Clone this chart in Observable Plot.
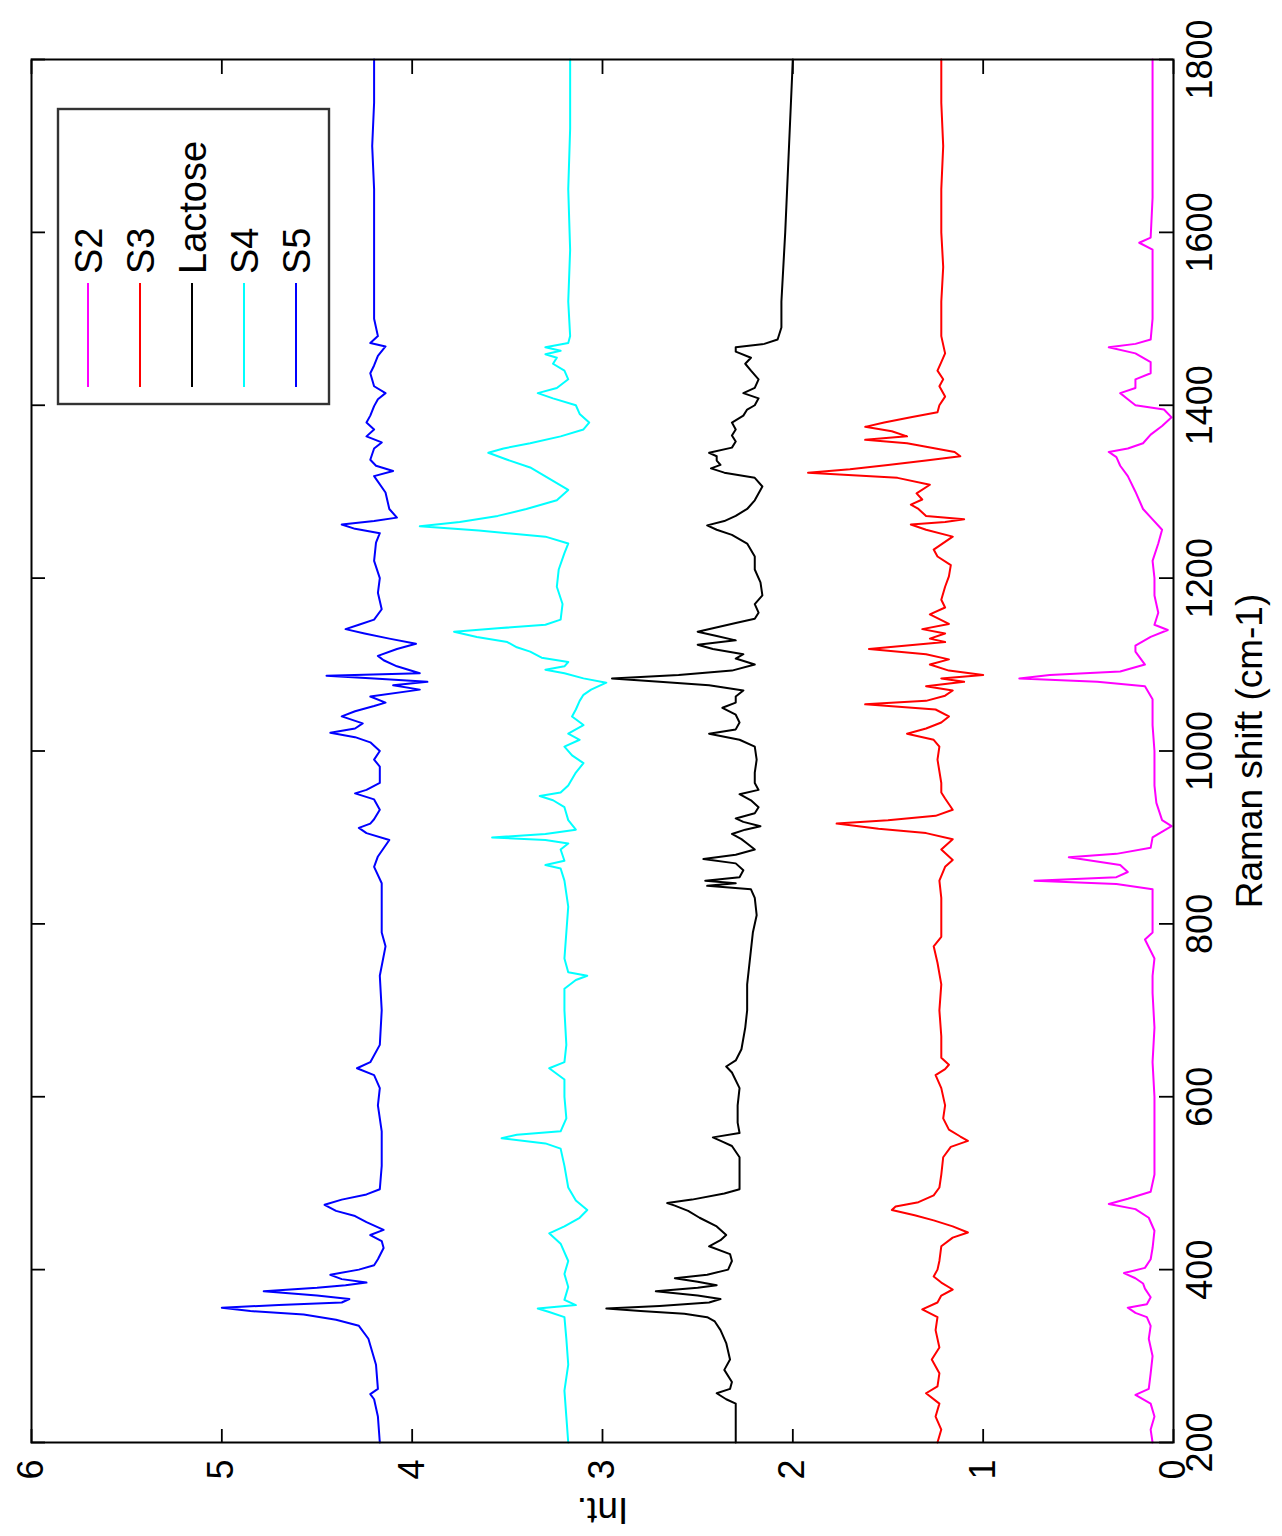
<!DOCTYPE html>
<html>
<head>
<meta charset="utf-8">
<script src="https://cdn.jsdelivr.net/npm/d3@7"></script>
<script src="https://cdn.jsdelivr.net/npm/@observablehq/plot@0.6"></script>
<style>
html, body { margin: 0; padding: 0; overflow: hidden; background: #fff; width: 1282px; height: 1536px; }
#rot { position: absolute; left: 0; top: 0; width: 1536px; height: 1282px; transform-origin: 0 0;
       transform: translate(0px, 1536px) rotate(-90deg); background: #fff; }
</style>
</head>
<body>
<div id="rot"></div>
<script>
// ---- data (Raman shift in cm-1, intensity) ----
const xTicks = [200, 400, 600, 800, 1000, 1200, 1400, 1600, 1800];
const yTicks = [0, 1, 2, 3, 4, 5, 6];
const names = ["S2", "S3", "Lactose", "S4", "S5"];
const colors = ["#ff00ff", "#ff0000", "#000000", "#00ffff", "#0000ff"];

const S2 = [[200,0.11],[215,0.12],[230,0.1],[245,0.12],[255,0.2],[262,0.13],[280,0.12],[300,0.11],[320,0.13],[335,0.12],[345,0.14],[350,0.2],[356,0.24],[360,0.14],[368,0.12],[378,0.15],[384,0.16],[390,0.2],[396,0.26],[402,0.15],[412,0.12],[425,0.11],[445,0.1],[460,0.13],[470,0.2],[476,0.34],[482,0.24],[490,0.12],[510,0.1],[540,0.1],[570,0.1],[600,0.1],[640,0.11],[680,0.1],[720,0.11],[740,0.11],[760,0.1],[782,0.15],[790,0.11],[820,0.11],[840,0.11],[846,0.3],[850,0.73],[854,0.3],[860,0.24],[868,0.28],[877,0.55],[881,0.3],[888,0.12],[900,0.11],[908,0.05],[913,0.01],[920,0.06],[940,0.09],[960,0.1],[1000,0.1],[1030,0.11],[1060,0.11],[1075,0.15],[1080,0.4],[1084,0.81],[1088,0.65],[1092,0.28],[1100,0.15],[1115,0.2],[1122,0.2],[1132,0.12],[1140,0.03],[1146,0.1],[1160,0.08],[1180,0.1],[1200,0.1],[1220,0.11],[1240,0.08],[1256,0.06],[1268,0.11],[1280,0.16],[1300,0.2],[1318,0.24],[1330,0.28],[1340,0.3],[1346,0.34],[1350,0.24],[1356,0.16],[1366,0.12],[1376,0.06],[1386,0.01],[1395,0.05],[1400,0.2],[1407,0.24],[1414,0.28],[1420,0.2],[1430,0.2],[1437,0.12],[1450,0.12],[1460,0.2],[1467,0.34],[1471,0.2],[1476,0.12],[1500,0.11],[1540,0.11],[1580,0.11],[1588,0.18],[1594,0.12],[1640,0.11],[1700,0.11],[1750,0.11],[1800,0.11]];

const S3 = [[200,1.24],[215,1.22],[230,1.25],[245,1.23],[257,1.3],[265,1.24],[280,1.23],[296,1.27],[310,1.23],[330,1.25],[345,1.24],[354,1.32],[362,1.24],[370,1.22],[377,1.16],[385,1.22],[392,1.26],[400,1.24],[410,1.23],[427,1.22],[437,1.16],[443,1.08],[450,1.16],[457,1.26],[463,1.36],[469,1.48],[473,1.46],[478,1.34],[486,1.26],[495,1.23],[510,1.22],[530,1.21],[542,1.17],[549,1.08],[554,1.12],[562,1.18],[575,1.21],[590,1.2],[610,1.22],[625,1.25],[632,1.2],[637,1.18],[645,1.22],[670,1.22],[700,1.23],[730,1.22],[755,1.24],[774,1.26],[785,1.22],[805,1.22],[830,1.22],[850,1.23],[866,1.2],[874,1.16],[886,1.22],[898,1.16],[905,1.3],[910,1.55],[916,1.77],[920,1.5],[925,1.25],[932,1.16],[945,1.2],[952,1.22],[963,1.22],[990,1.24],[1005,1.23],[1013,1.26],[1020,1.4],[1026,1.3],[1033,1.22],[1040,1.18],[1048,1.25],[1054,1.62],[1058,1.3],[1064,1.2],[1070,1.16],[1075,1.3],[1080,1.1],[1084,1.22],[1088,1.0],[1093,1.18],[1100,1.28],[1106,1.18],[1112,1.3],[1118,1.6],[1122,1.4],[1126,1.2],[1130,1.28],[1136,1.2],[1141,1.32],[1147,1.18],[1158,1.28],[1166,1.2],[1175,1.22],[1190,1.2],[1202,1.18],[1215,1.17],[1225,1.24],[1233,1.26],[1248,1.16],[1256,1.3],[1262,1.38],[1265,1.2],[1268,1.1],[1272,1.3],[1280,1.34],[1285,1.38],[1291,1.32],[1298,1.35],[1308,1.28],[1316,1.45],[1322,1.92],[1326,1.7],[1331,1.5],[1336,1.3],[1341,1.12],[1346,1.15],[1352,1.3],[1356,1.4],[1360,1.62],[1364,1.4],[1370,1.48],[1375,1.62],[1380,1.52],[1386,1.38],[1392,1.24],[1400,1.23],[1410,1.2],[1422,1.23],[1430,1.21],[1440,1.24],[1450,1.22],[1460,1.2],[1480,1.22],[1520,1.22],[1560,1.21],[1600,1.22],[1650,1.22],[1700,1.21],[1750,1.22],[1800,1.22]];

const Lactose = [[200,2.3],[245,2.3],[250,2.35],[257,2.4],[262,2.33],[270,2.32],[284,2.36],[296,2.33],[315,2.35],[330,2.38],[340,2.41],[345,2.45],[349,2.57],[352,2.8],[355,2.98],[358,2.7],[362,2.44],[366,2.38],[370,2.5],[375,2.72],[379,2.5],[382,2.4],[386,2.5],[390,2.62],[394,2.45],[400,2.34],[410,2.32],[418,2.33],[427,2.44],[434,2.38],[440,2.35],[450,2.4],[460,2.49],[468,2.55],[474,2.62],[477,2.66],[481,2.53],[488,2.36],[493,2.28],[510,2.28],[530,2.28],[543,2.32],[548,2.37],[553,2.42],[558,2.28],[570,2.29],[590,2.29],[610,2.28],[628,2.32],[635,2.35],[642,2.3],[655,2.27],[680,2.25],[700,2.24],[730,2.24],[750,2.23],[770,2.22],[790,2.21],[810,2.19],[830,2.2],[840,2.22],[844,2.45],[847,2.3],[850,2.46],[854,2.28],[862,2.26],[870,2.3],[875,2.47],[880,2.3],[886,2.2],[893,2.24],[898,2.27],[904,2.32],[909,2.25],[913,2.17],[918,2.26],[922,2.3],[928,2.2],[935,2.18],[943,2.22],[950,2.28],[955,2.18],[963,2.2],[975,2.2],[990,2.19],[1005,2.2],[1013,2.28],[1020,2.44],[1025,2.3],[1033,2.28],[1042,2.3],[1050,2.37],[1056,2.3],[1063,2.3],[1070,2.26],[1076,2.44],[1080,2.7],[1084,2.95],[1088,2.6],[1093,2.32],[1100,2.2],[1107,2.3],[1112,2.26],[1118,2.42],[1123,2.5],[1128,2.3],[1133,2.4],[1138,2.5],[1142,2.42],[1148,2.3],[1153,2.2],[1160,2.18],[1170,2.2],[1180,2.16],[1195,2.17],[1210,2.2],[1225,2.2],[1240,2.24],[1250,2.32],[1256,2.4],[1261,2.45],[1266,2.36],[1272,2.3],[1280,2.24],[1290,2.2],[1306,2.16],[1316,2.2],[1322,2.36],[1327,2.43],[1331,2.38],[1336,2.4],[1341,2.4],[1345,2.44],[1351,2.32],[1358,2.3],[1365,2.32],[1372,2.3],[1380,2.32],[1388,2.26],[1395,2.24],[1400,2.2],[1408,2.18],[1414,2.26],[1420,2.2],[1430,2.18],[1440,2.22],[1448,2.25],[1455,2.22],[1462,2.3],[1467,2.3],[1471,2.15],[1476,2.08],[1490,2.06],[1520,2.06],[1560,2.05],[1600,2.04],[1650,2.03],[1700,2.02],[1750,2.01],[1800,2.0]];

const S4 = [[200,3.18],[230,3.19],[260,3.2],[290,3.18],[320,3.19],[345,3.2],[351,3.28],[355,3.34],[359,3.14],[365,3.2],[380,3.18],[395,3.2],[410,3.18],[430,3.22],[442,3.28],[450,3.2],[460,3.12],[469,3.08],[480,3.14],[495,3.18],[520,3.2],[540,3.22],[546,3.3],[552,3.53],[556,3.45],[560,3.22],[575,3.19],[600,3.2],[620,3.2],[633,3.28],[640,3.2],[660,3.19],[700,3.2],[725,3.2],[735,3.14],[740,3.08],[744,3.18],[760,3.2],[790,3.19],[820,3.18],[850,3.2],[864,3.22],[868,3.3],[873,3.2],[886,3.22],[893,3.18],[897,3.3],[900,3.58],[904,3.3],[909,3.14],[920,3.18],[935,3.2],[943,3.26],[948,3.33],[952,3.22],[960,3.18],[975,3.14],[986,3.1],[995,3.16],[1005,3.2],[1013,3.12],[1020,3.18],[1030,3.1],[1040,3.16],[1048,3.14],[1058,3.12],[1065,3.1],[1071,3.06],[1079,2.98],[1084,3.1],[1090,3.2],[1094,3.3],[1098,3.2],[1103,3.18],[1108,3.32],[1115,3.38],[1120,3.45],[1126,3.5],[1132,3.66],[1138,3.78],[1142,3.55],[1146,3.3],[1152,3.22],[1170,3.21],[1190,3.24],[1210,3.23],[1229,3.2],[1240,3.18],[1248,3.3],[1255,3.65],[1260,3.96],[1265,3.75],[1272,3.55],[1280,3.4],[1290,3.24],[1302,3.18],[1315,3.28],[1328,3.38],[1337,3.5],[1345,3.6],[1350,3.52],[1356,3.38],[1364,3.22],[1372,3.1],[1380,3.07],[1390,3.12],[1400,3.14],[1408,3.26],[1414,3.34],[1420,3.24],[1430,3.18],[1440,3.2],[1448,3.26],[1455,3.24],[1459,3.3],[1463,3.22],[1467,3.3],[1472,3.18],[1480,3.17],[1520,3.18],[1580,3.17],[1650,3.18],[1720,3.17],[1800,3.17]];

const S5 = [[200,4.17],[230,4.18],[250,4.2],[256,4.22],[262,4.18],[290,4.19],[320,4.23],[335,4.28],[342,4.4],[348,4.57],[352,4.85],[356,5.0],[359,4.7],[362,4.37],[366,4.33],[370,4.5],[375,4.78],[379,4.5],[382,4.35],[385,4.24],[389,4.37],[394,4.43],[400,4.28],[405,4.2],[412,4.18],[425,4.15],[433,4.16],[440,4.22],[446,4.15],[455,4.24],[462,4.3],[468,4.4],[475,4.46],[481,4.37],[487,4.24],[493,4.17],[520,4.16],[560,4.16],[590,4.18],[610,4.17],[625,4.2],[633,4.29],[640,4.22],[660,4.17],[700,4.16],[740,4.17],[774,4.14],[790,4.16],[820,4.16],[847,4.16],[866,4.2],[878,4.18],[897,4.12],[905,4.24],[911,4.28],[916,4.22],[921,4.2],[932,4.17],[944,4.2],[951,4.3],[955,4.24],[963,4.17],[982,4.17],[990,4.2],[1000,4.17],[1010,4.22],[1016,4.3],[1021,4.43],[1026,4.3],[1032,4.26],[1040,4.37],[1046,4.3],[1052,4.2],[1056,4.14],[1063,4.22],[1071,3.96],[1076,4.1],[1080,3.92],[1084,4.2],[1087,4.45],[1090,3.96],[1098,4.08],[1105,4.15],[1110,4.18],[1118,4.08],[1124,3.98],[1130,4.12],[1136,4.25],[1141,4.35],[1146,4.28],[1152,4.2],[1164,4.16],[1183,4.18],[1200,4.17],[1220,4.2],[1241,4.19],[1252,4.17],[1257,4.3],[1262,4.37],[1266,4.2],[1270,4.08],[1280,4.12],[1299,4.14],[1318,4.2],[1324,4.1],[1330,4.19],[1337,4.22],[1350,4.2],[1357,4.16],[1364,4.24],[1372,4.2],[1380,4.24],[1388,4.22],[1399,4.2],[1407,4.18],[1414,4.14],[1422,4.2],[1437,4.22],[1446,4.2],[1457,4.18],[1468,4.14],[1472,4.22],[1480,4.18],[1500,4.2],[1550,4.2],[1600,4.2],[1650,4.2],[1700,4.21],[1750,4.2],[1800,4.2]];

const xLabel = "Raman shift (cm-1)";
const yLabel = "Int.";

// ---- build ----
const allSeries = [S2, S3, Lactose, S4, S5];
const rows = allSeries.flatMap((arr, i) => arr.map(([x, y]) => ({name: names[i], x, y})));

const W = 1536, H = 1282;
const mL = 93, mR = 60, mT = 31, mB = 109;
const plotW = W - mL - mR, plotH = H - mT - mB;
const tick = 14;
const font = "'Liberation Sans', Arial, Helvetica, sans-serif";

const chart = Plot.plot({
  width: W, height: H,
  marginLeft: mL, marginRight: mR, marginTop: mT, marginBottom: mB,
  style: {fontFamily: font, fontSize: "36px", background: "#fff", color: "#000"},
  x: {domain: [200, 1800]},
  y: {domain: [0, 6]},
  color: {domain: names, range: colors},
  marks: [
    Plot.line(rows, {x: "x", y: "y", z: "name", stroke: "name", strokeWidth: 2, curve: "linear"}),
    Plot.tickX(xTicks, {x: d => d, insetTop: plotH - tick, stroke: "#000", strokeWidth: 1.8}),
    Plot.tickX(xTicks, {x: d => d, insetBottom: plotH - tick, stroke: "#000", strokeWidth: 1.8}),
    Plot.tickY(yTicks, {y: d => d, insetRight: plotW - tick, stroke: "#000", strokeWidth: 1.8}),
    Plot.tickY(yTicks, {y: d => d, insetLeft: plotW - tick, stroke: "#000", strokeWidth: 1.8}),
    Plot.frame({stroke: "#000", strokeWidth: 2}),
    Plot.axisX({ticks: xTicks, tickSize: 0, tickPadding: 13, tickFormat: d => String(d), fontSize: 36, label: null}),
    Plot.axisY({ticks: yTicks, tickSize: 0, tickPadding: 17, tickFormat: d => String(d), fontSize: 36, label: null}),
    Plot.text([xLabel], {text: d => d, frameAnchor: "bottom", dy: 77, textAnchor: "middle", lineAnchor: "middle", fontSize: 37}),
    Plot.text([yLabel], {text: d => d, frameAnchor: "left", dx: -67, rotate: -90, textAnchor: "middle", lineAnchor: "middle", fontSize: 37})
  ]
});

document.getElementById("rot").appendChild(chart);

// legend box (top-right of the axes, as in the original)
const svg = d3.select(chart);
const lg = svg.append("g").attr("font-family", font).attr("font-size", 38).attr("text-anchor", "start");
lg.append("rect").attr("x", 1132).attr("y", 58).attr("width", 295).attr("height", 271)
  .attr("fill", "#fff").attr("stroke", "#333").attr("stroke-width", 2.4);
names.forEach((n, i) => {
  const yy = 88 + 52 * i;
  lg.append("line").attr("x1", 1149).attr("x2", 1253).attr("y1", yy).attr("y2", yy)
    .attr("stroke", colors[i]).attr("stroke-width", 2);
  lg.append("text").attr("x", 1262).attr("y", yy).attr("dy", "0.36em").attr("fill", "#000")
    .attr("text-anchor", "start").text(n);
});
</script>
</body>
</html>
